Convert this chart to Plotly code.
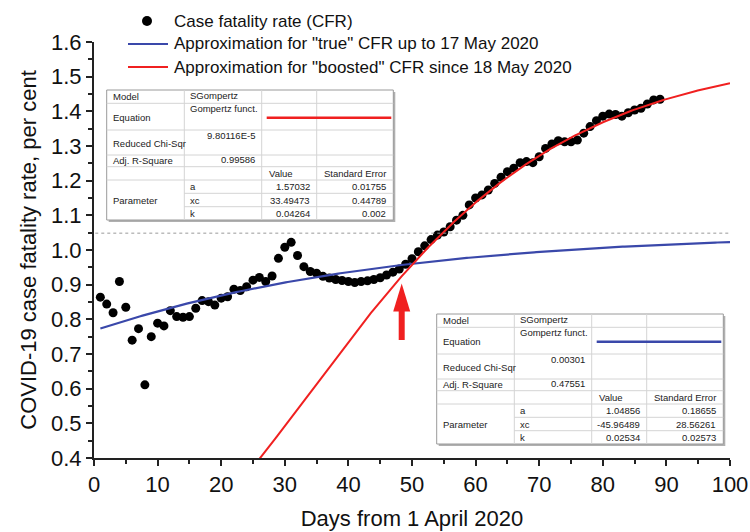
import numpy as np
import plotly.graph_objects as go

# ---------------- data ----------------
days = list(range(1, 90))
cfr = [0.864, 0.844, 0.819, 0.909, 0.835, 0.740, 0.773, 0.611, 0.750, 0.789,
       0.781, 0.825, 0.808, 0.806, 0.808, 0.832, 0.854, 0.851, 0.841, 0.861,
       0.865, 0.887, 0.883, 0.894, 0.913, 0.921, 0.909, 0.925, 0.976, 1.008,
       1.022, 0.984, 0.952, 0.938, 0.933, 0.924, 0.919, 0.915, 0.912, 0.909,
       0.906, 0.909, 0.911, 0.915, 0.920, 0.928, 0.936, 0.945, 0.959, 0.975,
       0.995, 1.012, 1.030, 1.043, 1.052, 1.067, 1.086, 1.100, 1.130, 1.150,
       1.159, 1.173, 1.192, 1.210, 1.226, 1.236, 1.252, 1.255, 1.252, 1.269,
       1.293, 1.306, 1.315, 1.312, 1.312, 1.317, 1.337, 1.356, 1.373, 1.386,
       1.392, 1.391, 1.386, 1.396, 1.404, 1.409, 1.421, 1.433, 1.435]

# Gompertz fit parameters (from the tables in the chart)
red_params = {"a": 1.57032, "xc": 33.49473, "k": 0.04264}
red_err = {"a": 0.01755, "xc": 0.44789, "k": 0.002}
red_stats = {"chi": "9.80116E-5", "r2": "0.99586"}
blue_params = {"a": 1.04856, "xc": -45.96489, "k": 0.02534}
blue_err = {"a": 0.18655, "xc": 28.56261, "k": 0.02573}
blue_stats = {"chi": "0.00301", "r2": "0.47551"}

series_names = ["Case fatality rate (CFR)",
                'Approximation for "true" CFR up to 17 May 2020',
                'Approximation for "boosted" CFR since 18 May 2020']

x_ticks = [0, 10, 20, 30, 40, 50, 60, 70, 80, 90, 100]
y_ticks = [0.4, 0.5, 0.6, 0.7, 0.8, 0.9, 1.0, 1.1, 1.2, 1.3, 1.4, 1.5, 1.6]


def sgompertz(x, p):
    return p["a"] * np.exp(-np.exp(-p["k"] * (x - p["xc"])))


BLUE = "#3a48aa"
RED = "#f02020"
FONT = "Liberation Sans, Arial, sans-serif"

xb = np.linspace(1, 100, 300)
xr = np.linspace(20, 100, 300)

fig = go.Figure()
fig.add_trace(go.Scatter(x=days, y=cfr, mode="markers", name=series_names[0],
                         marker=dict(color="black", size=9, line=dict(width=0))))
fig.add_trace(go.Scatter(x=xb, y=sgompertz(xb, blue_params), mode="lines",
                         name=series_names[1], line=dict(color=BLUE, width=2.2)))
fig.add_trace(go.Scatter(x=xr, y=sgompertz(xr, red_params), mode="lines",
                         name=series_names[2], line=dict(color=RED, width=2)))

# plot area geometry in pixels
L, R, T, B = 94, 730, 42, 458


def px(p):
    return (p - L) / (R - L)


def py(p):
    return (B - p) / (B - T)


shapes = []
annotations = []

# dashed asymptote of the "true" CFR fit
shapes.append(dict(type="line", xref="paper", yref="y", x0=0.002, x1=1,
                   y0=blue_params["a"], y1=blue_params["a"],
                   line=dict(color="#999999", width=1, dash="dot")))

# red arrow
ax_px, tip, tail = 401.7, 283.5, 340
shapes.append(dict(type="line", xref="paper", yref="paper", x0=px(ax_px), x1=px(ax_px),
                   y0=py(tail), y1=py(tip + 24), line=dict(color=RED, width=6)))
shapes.append(dict(type="path", xref="paper", yref="paper",
                   path=f"M {px(ax_px-8.5)} {py(tip+28)} L {px(ax_px)} {py(tip)} L {px(ax_px+8.5)} {py(tip+28)} Z",
                   fillcolor=RED, line=dict(color=RED, width=0)))

# manual legend (kept inside fixed margins)
leg_rows = [21, 44, 67]
leg_text_x = 172
shapes.append(dict(type="circle", xref="paper", yref="paper",
                   x0=px(147 - 5), x1=px(147 + 5), y0=py(leg_rows[0] - 5), y1=py(leg_rows[0] + 5),
                   fillcolor="black", line=dict(width=0)))
for row, col in zip(leg_rows[1:], [BLUE, RED]):
    shapes.append(dict(type="line", xref="paper", yref="paper", x0=px(128), x1=px(168),
                       y0=py(row), y1=py(row), line=dict(color=col, width=2)))
for row, name in zip(leg_rows, series_names):
    annotations.append(dict(text=name, x=px(leg_text_x), y=py(row), xref="paper", yref="paper",
                            xanchor="left", yanchor="middle", showarrow=False,
                            font=dict(size=17, family=FONT, color="#111111")))


def table(x0, y0, stats, params, errs, color):
    cols = [0, 77.6, 155, 210, 286.6]
    rows = [0, 13.3, 40, 65, 76.7, 90, 103.3, 116.7, 130]
    X = [x0 + c for c in cols]
    Y = [y0 + r for r in rows]
    shapes.append(dict(type="rect", xref="paper", yref="paper", x0=px(X[0] + 2), x1=px(X[-1] + 2),
                       y0=py(Y[0] + 2), y1=py(Y[-1] + 2), fillcolor="#b0b0b0",
                       line=dict(width=0), layer="above"))
    shapes.append(dict(type="rect", xref="paper", yref="paper", x0=px(X[0]), x1=px(X[-1]),
                       y0=py(Y[0]), y1=py(Y[-1]), fillcolor="white",
                       line=dict(color="#9a9a9a", width=1), layer="above"))
    g = dict(color="#d4d4d4", width=1)
    for i in range(1, 6):
        shapes.append(dict(type="line", xref="paper", yref="paper", x0=px(X[0]), x1=px(X[-1]),
                           y0=py(Y[i]), y1=py(Y[i]), line=g, layer="above"))
    for i in range(6, 8):
        shapes.append(dict(type="line", xref="paper", yref="paper", x0=px(X[1]), x1=px(X[-1]),
                           y0=py(Y[i]), y1=py(Y[i]), line=g, layer="above"))
    for j in range(1, 4):
        shapes.append(dict(type="line", xref="paper", yref="paper", x0=px(X[j]), x1=px(X[j]),
                           y0=py(Y[0]), y1=py(Y[-1]), line=g, layer="above"))
    shapes.append(dict(type="line", xref="paper", yref="paper", x0=px(X[2] + 5), x1=px(X[4] - 2),
                       y0=py(Y[1] + 14.5), y1=py(Y[1] + 14.5), line=dict(color=color, width=2.5),
                       layer="above"))

    def txt(t, x, y, xa="left", ya="middle"):
        annotations.append(dict(text=t, x=px(x), y=py(y), xref="paper", yref="paper",
                                xanchor=xa, yanchor=ya, showarrow=False,
                                font=dict(size=9.5, color="#222222", family=FONT)))

    def mid(a, b):
        return (Y[a] + Y[b]) / 2

    txt("Model", X[0] + 4, mid(0, 1))
    txt("SGompertz", X[1] + 4, mid(0, 1) - 1)
    txt("Equation", X[0] + 4, mid(1, 2) + 1)
    txt("Gompertz funct.", X[1] + 4, Y[1] + 5)
    txt("Reduced Chi-Sqr", X[0] + 4, mid(2, 3) + 1)
    txt(stats["chi"], X[2] - 5, Y[2] + 5, xa="right")
    txt("Adj. R-Square", X[0] + 4, mid(3, 4))
    txt(stats["r2"], X[2] - 5, mid(3, 4) - 1, xa="right")
    txt("Value", X[2] + 5, mid(4, 5))
    txt("Standard Error", X[3] + 5, mid(4, 5))
    txt("Parameter", X[0] + 4, mid(5, 8))
    for i, key in enumerate(["a", "xc", "k"]):
        txt(key, X[1] + 4, mid(5 + i, 6 + i))
        txt(f"{params[key]}", X[3] - 5, mid(5 + i, 6 + i), xa="right")
        txt(f"{errs[key]}", X[4] - 5, mid(5 + i, 6 + i), xa="right")


table(106.7, 90, red_stats, red_params, red_err, RED)
table(436.7, 314, blue_stats, blue_params, blue_err, BLUE)

axis_common = dict(showgrid=False, zeroline=False, showline=True, linecolor="#222222",
                   linewidth=2, ticks="outside", tickwidth=2, ticklen=6, tickcolor="#222222",
                   tickfont=dict(size=22, family=FONT, color="#111111"),
                   mirror=False, automargin=False)

fig.update_layout(
    width=750, height=532,
    margin=dict(l=L, r=750 - R, t=T, b=532 - B, pad=0),
    paper_bgcolor="white", plot_bgcolor="white",
    font=dict(family=FONT, color="#111111"),
    shapes=shapes, annotations=annotations,
    showlegend=False,
    xaxis=dict(range=[0, 100], tickvals=x_ticks, ticktext=[str(v) for v in x_ticks],
               minor=dict(dtick=5, ticks="outside", ticklen=4, tickwidth=2, tickcolor="#222222"),
               title=dict(text="Days from 1 April 2020", font=dict(size=22, family=FONT),
                          standoff=14),
               **axis_common),
    yaxis=dict(range=[0.4, 1.6], tickvals=y_ticks, ticktext=[f"{v:.1f}" for v in y_ticks],
               minor=dict(dtick=0.05, tick0=0.4, ticks="outside", ticklen=4, tickwidth=2,
                          tickcolor="#222222"),
               title=dict(text="COVID-19 case fatality rate, per cent",
                          font=dict(size=22, family=FONT), standoff=8),
               **axis_common),
)

fig.write_html("out.html", config={"displayModeBar": False},
               post_script="document.body.style.margin='0';document.body.style.overflow='hidden';")
